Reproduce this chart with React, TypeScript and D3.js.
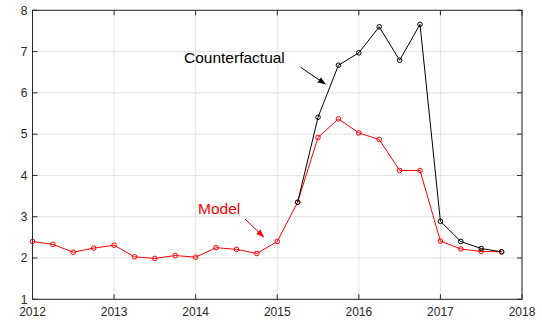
import React from "react";
import * as d3 from "d3";

const quarters = [
  2012.0, 2012.25, 2012.5, 2012.75, 2013.0, 2013.25, 2013.5, 2013.75,
  2014.0, 2014.25, 2014.5, 2014.75, 2015.0, 2015.25, 2015.5, 2015.75,
  2016.0, 2016.25, 2016.5, 2016.75, 2017.0, 2017.25, 2017.5, 2017.75,
];
const modelValues = [
  2.40, 2.33, 2.14, 2.24, 2.31, 2.03, 1.99, 2.06,
  2.02, 2.25, 2.21, 2.11, 2.40, 3.35, 4.92, 5.37,
  5.03, 4.87, 4.12, 4.12, 2.41, 2.22, 2.16, 2.15,
];
const cfQuarters = [2015.25, 2015.5, 2015.75, 2016.0, 2016.25, 2016.5, 2016.75, 2017.0, 2017.25, 2017.5, 2017.75];
const cfValues = [3.35, 5.41, 6.67, 6.97, 7.60, 6.79, 7.66, 2.89, 2.40, 2.23, 2.15];
const xTicks = [2012, 2013, 2014, 2015, 2016, 2017, 2018];
const yTicks = [1, 2, 3, 4, 5, 6, 7, 8];

export default function App() {
  const W = 542, H = 322;
  const left = 32.5, right = 522, top = 10.3, bottom = 299.3;
  const x = d3.scaleLinear().domain([2012, 2018]).range([left, right]);
  const y = d3.scaleLinear().domain([1, 8]).range([bottom, top]);
  const line = d3.line<[number, number]>().x(d => x(d[0])).y(d => y(d[1]));
  const model: [number, number][] = quarters.map((q, i) => [q, modelValues[i]]);
  const cf: [number, number][] = cfQuarters.map((q, i) => [q, cfValues[i]]);
  const axisColor = "#262626";
  const grid = "#e3e3e3";
  const font = "'Liberation Sans', Arial, Helvetica, sans-serif";
  const tl = 5;

  return (
    <svg width={W} height={H} style={{ position: "absolute", left: 0, top: 0, background: "#fff" }}>
      <defs>
        <marker id="ahB" viewBox="0 0 10 10" refX="10" refY="5" markerWidth="8" markerHeight="8" markerUnits="userSpaceOnUse" orient="auto">
          <path d="M0,1 L10,5 L0,9 z" fill="#000" />
        </marker>
        <marker id="ahR" viewBox="0 0 10 10" refX="10" refY="5" markerWidth="8" markerHeight="8" markerUnits="userSpaceOnUse" orient="auto">
          <path d="M0,1 L10,5 L0,9 z" fill="#ff0000" />
        </marker>
      </defs>
      {xTicks.map(t => (
        <line key={"gx" + t} x1={x(t)} x2={x(t)} y1={top} y2={bottom} stroke={grid} strokeWidth={1} />
      ))}
      {yTicks.map(t => (
        <line key={"gy" + t} x1={left} x2={right} y1={y(t)} y2={y(t)} stroke={grid} strokeWidth={1} />
      ))}
      <path d={line(model) || ""} fill="none" stroke="#ff0000" strokeWidth={1} />
      {model.map((d, i) => (
        <circle key={"m" + i} cx={x(d[0])} cy={y(d[1])} r={2.3} fill="none" stroke="#ff0000" strokeWidth={1} />
      ))}
      <path d={line(cf) || ""} fill="none" stroke="#000" strokeWidth={1} />
      {cf.map((d, i) => (
        <circle key={"c" + i} cx={x(d[0])} cy={y(d[1])} r={2.3} fill="none" stroke="#000" strokeWidth={1} />
      ))}
      <rect x={left} y={top} width={right - left} height={bottom - top} fill="none" stroke={axisColor} strokeWidth={1} />
      {xTicks.map(t => (
        <g key={"tx" + t}>
          <line x1={x(t)} x2={x(t)} y1={bottom} y2={bottom - tl} stroke={axisColor} />
          <line x1={x(t)} x2={x(t)} y1={top} y2={top + tl} stroke={axisColor} />
          <text x={x(t)} y={315.6} textAnchor="middle" fontFamily={font} fontSize={12} fill={axisColor}>{t}</text>
        </g>
      ))}
      {yTicks.map(t => (
        <g key={"ty" + t}>
          <line x1={left} x2={left + tl} y1={y(t)} y2={y(t)} stroke={axisColor} />
          <line x1={right} x2={right - tl} y1={y(t)} y2={y(t)} stroke={axisColor} />
          <text x={27.5} y={y(t) + 4.3} textAnchor="end" fontFamily={font} fontSize={12} fill={axisColor}>{t}</text>
        </g>
      ))}
      <text x={184} y={62.7} fontFamily={font} fontSize={15.5} fill="#000">Counterfactual</text>
      <line x1={300.7} y1={67.3} x2={325.7} y2={84.3} stroke="#000" strokeWidth={1} markerEnd="url(#ahB)" />
      <text x={198} y={214.3} fontFamily={font} fontSize={15.5} fill="#ff0000">Model</text>
      <line x1={245} y1={219} x2={264} y2={237.3} stroke="#ff0000" strokeWidth={1} markerEnd="url(#ahR)" />
    </svg>
  );
}
